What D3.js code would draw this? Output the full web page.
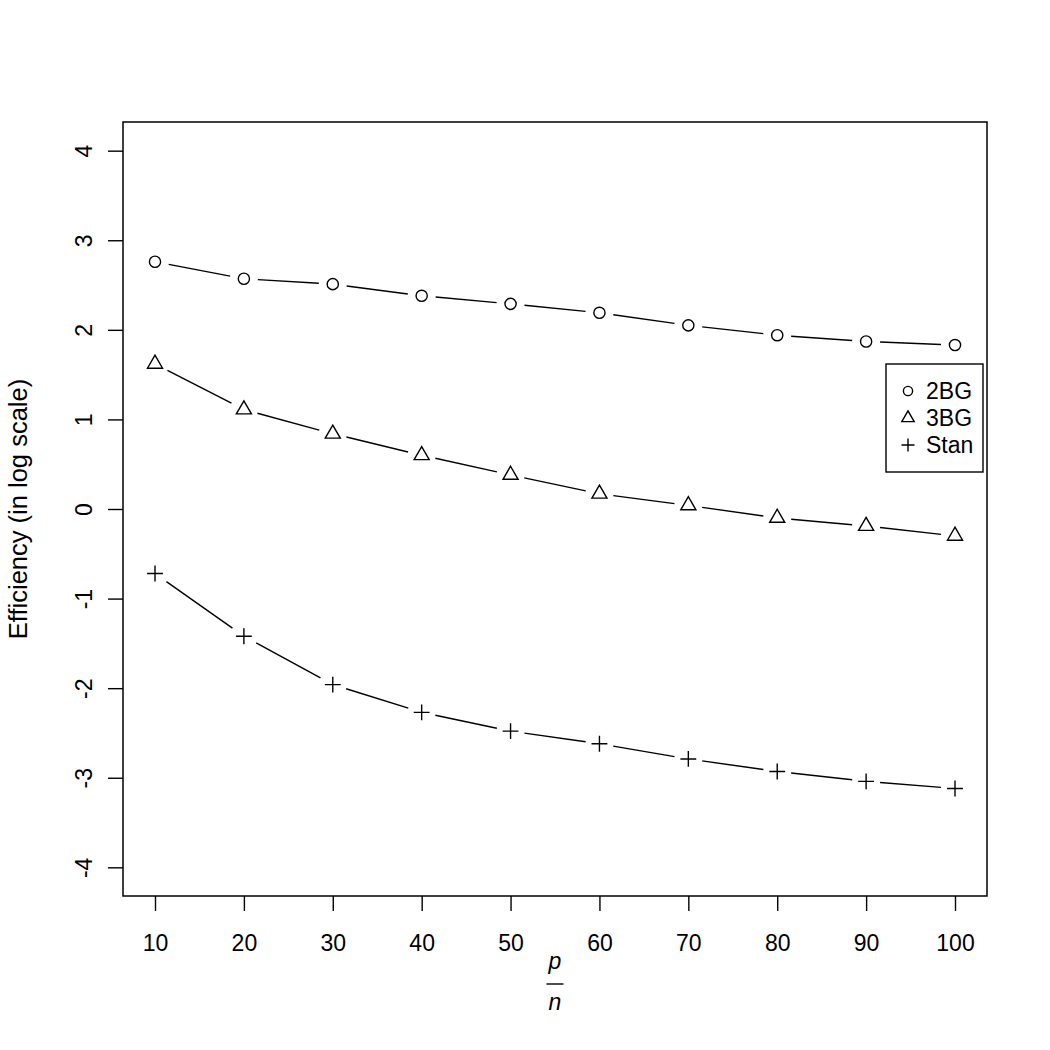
<!DOCTYPE html>
<html>
<head>
<meta charset="utf-8">
<script src="https://cdn.jsdelivr.net/npm/d3@7"></script>
<style>
  html, body { margin: 0; padding: 0; background: #fff; }
  text { font-family: "Liberation Sans", Arial, Helvetica, sans-serif; fill: #000; }
</style>
</head>
<body>
<svg id="chart" width="1050" height="1050"></svg>
<script>
// ---- data ----
const pn = [10, 20, 30, 40, 50, 60, 70, 80, 90, 100];
const bg2 = [2.76, 2.57, 2.51, 2.38, 2.29, 2.19, 2.05, 1.94, 1.87, 1.83];
const bg3 = [1.62, 1.11, 0.84, 0.60, 0.38, 0.17, 0.04, -0.10, -0.19, -0.30];
const stan = [-0.72, -1.42, -1.96, -2.27, -2.48, -2.62, -2.79, -2.93, -3.04, -3.12];
const yTicks = [-4, -3, -2, -1, 0, 1, 2, 3, 4];
const seriesNames = ["2BG", "3BG", "Stan"];
const seriesShapes = ["circle", "triangle", "plus"];

// ---- layout ----
const svg = d3.select("#chart");
const L = 123, R = 987, T = 122, B = 896;
const fontSize = 23;
const xs = d3.scaleLinear().domain([6.4, 103.6]).range([L, R]);
const ys = d3.scaleLinear().domain([-4.32, 4.32]).range([B, T]);

svg.append("rect").attr("width", 1050).attr("height", 1050).attr("fill", "#fff");

// axes
const xAxis = svg.append("g").attr("transform", `translate(0,${B})`)
  .call(d3.axisBottom(xs).tickValues(pn).tickSize(15).tickFormat(d => String(d)));
xAxis.select(".domain").remove();
xAxis.selectAll("line").attr("stroke", "#000").attr("stroke-width", 1.4);
xAxis.selectAll("text").attr("y", 55).attr("dy", 0)
  .style("font-size", fontSize + "px").style("font-family", "'Liberation Sans', Arial, sans-serif").attr("fill", "#000");

const yAxis = svg.append("g").attr("transform", `translate(${L},0)`)
  .call(d3.axisLeft(ys).tickValues(yTicks).tickSize(15).tickFormat(d => String(d)));
yAxis.select(".domain").remove();
yAxis.selectAll("line").attr("stroke", "#000").attr("stroke-width", 1.4);
yAxis.selectAll("text")
  .attr("x", 0).attr("dy", 0)
  .attr("transform", "translate(-31,0) rotate(-90)")
  .attr("text-anchor", "middle")
  .style("font-size", fontSize + "px").style("font-family", "'Liberation Sans', Arial, sans-serif").attr("fill", "#000");

// box
svg.append("rect").attr("x", L).attr("y", T).attr("width", R - L).attr("height", B - T)
  .attr("fill", "none").attr("stroke", "#000").attr("stroke-width", 1.5);

// symbols
const rad = 5.6;
function drawSymbol(g, shape, cx, cy, r) {
  if (shape === "circle") {
    g.append("circle").attr("cx", cx).attr("cy", cy).attr("r", r)
      .attr("fill", "none").attr("stroke", "#000").attr("stroke-width", 1.4);
  } else if (shape === "triangle") {
    const a = 1.555 * r, h = 1.347 * r, b = 0.778 * r;
    g.append("path").attr("d", `M${cx},${cy - a}L${cx + h},${cy + b}L${cx - h},${cy + b}Z`)
      .attr("fill", "none").attr("stroke", "#000").attr("stroke-width", 1.4);
  } else {
    const s = 1.414 * r;
    g.append("path").attr("d", `M${cx - s},${cy}H${cx + s}M${cx},${cy - s}V${cy + s}`)
      .attr("fill", "none").attr("stroke", "#000").attr("stroke-width", 1.4);
  }
}

const allSeries = [bg2, bg3, stan];
const gap = 14;
allSeries.forEach((vals, si) => {
  const g = svg.append("g");
  const pts = pn.map((x, i) => [xs(x), ys(vals[i])]);
  for (let i = 0; i < pts.length - 1; i++) {
    const [x0, y0] = pts[i], [x1, y1] = pts[i + 1];
    const dx = x1 - x0, dy = y1 - y0, len = Math.hypot(dx, dy);
    if (len <= 2 * gap) continue;
    const ux = dx / len, uy = dy / len;
    g.append("line")
      .attr("x1", x0 + ux * gap).attr("y1", y0 + uy * gap)
      .attr("x2", x1 - ux * gap).attr("y2", y1 - uy * gap)
      .attr("stroke", "#000").attr("stroke-width", 1.4);
  }
  pts.forEach(([x, y]) => drawSymbol(g, seriesShapes[si], x, y, rad));
});

// y label
svg.append("text").attr("transform", `translate(27,${(T + B) / 2}) rotate(-90)`)
  .attr("text-anchor", "middle").style("font-size", "25.5px")
  .text("Efficiency (in log scale)");

// x label as fraction p/n
const fx = (L + R) / 2;
svg.append("text").attr("x", fx).attr("y", 969).attr("text-anchor", "middle")
  .style("font-size", fontSize + "px").style("font-style", "italic").text("p");
svg.append("line").attr("x1", fx - 8.5).attr("x2", fx + 8.5).attr("y1", 984).attr("y2", 984)
  .attr("stroke", "#000").attr("stroke-width", 1.4);
svg.append("text").attr("x", fx).attr("y", 1010).attr("text-anchor", "middle")
  .style("font-size", fontSize + "px").style("font-style", "italic").text("n");

// legend
const lg = svg.append("g");
lg.append("rect").attr("x", 886).attr("y", 364).attr("width", 97).attr("height", 108)
  .attr("fill", "#fff").attr("stroke", "#000").attr("stroke-width", 1.4);
const rows = [391, 418, 445];
seriesNames.forEach((name, i) => {
  drawSymbol(lg, seriesShapes[i], 908, rows[i], 4.6);
  lg.append("text").attr("x", 926).attr("y", rows[i] + 8).style("font-size", fontSize + "px").text(name);
});
</script>
</body>
</html>
